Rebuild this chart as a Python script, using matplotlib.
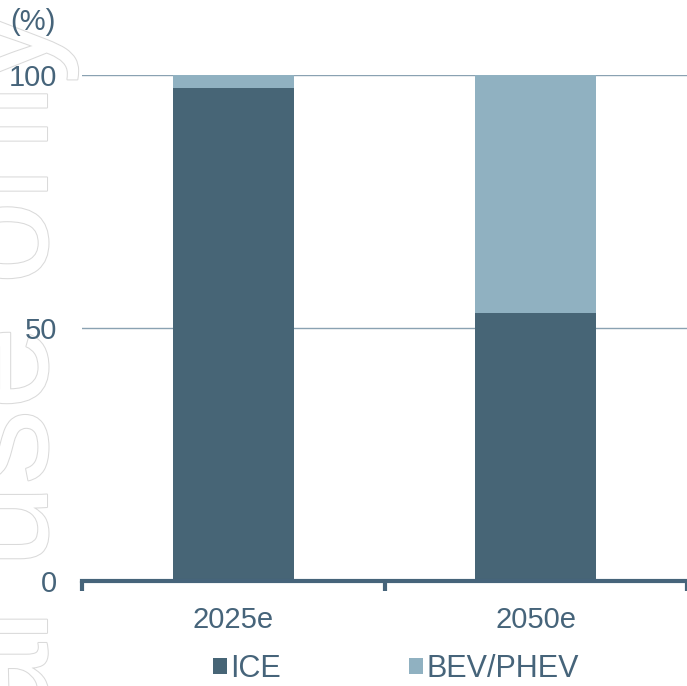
import matplotlib

matplotlib.use("Agg")
import matplotlib.pyplot as plt
import matplotlib.patheffects as pe
from matplotlib import font_manager
import numpy as np

years = ["2025e", "2050e"]
ice = [97.5, 53]
bev_phev = [2.5, 47]
series_names = ["ICE", "BEV/PHEV"]

INK = "#46647a"
C_ICE = "#476576"
C_BEV = "#90b1c1"
GRID = "#8aa2b2"

installed = {f.name for f in font_manager.fontManager.ttflist}
narrow = "Liberation Sans Narrow" in installed
plt.rcParams["font.family"] = ["Liberation Sans Narrow" if narrow else "Liberation Sans", "DejaVu Sans"]
FS = 25 if narrow else 21
FS_LEG = FS + 1

fig = plt.figure(figsize=(6.87, 6.86), dpi=100)
ax = fig.add_axes([82 / 687, 105 / 686, 605 / 687, 506 / 686])

# watermark, mostly cut off at the left edge
fig.text(47 / 687, 1 - 10 / 686, "internal use only", rotation=90, rotation_mode="anchor",
         ha="right", va="baseline", fontsize=108, color="white", zorder=-1,
         family="Liberation Sans",
         path_effects=[pe.withStroke(linewidth=1.5, foreground="#dadada")])

x = np.arange(len(years))
ax.bar(x, ice, width=0.4, color=C_ICE, label=series_names[0], zorder=2)
ax.bar(x, bev_phev, width=0.4, bottom=ice, color=C_BEV, label=series_names[1], zorder=2)

ax.set_xlim(-0.5, 1.5)
ax.set_ylim(0, 100)
ax.set_yticks([0, 50, 100])
ax.set_yticklabels(["0", "50", "100"])
ax.set_xticks(x)
ax.set_xticklabels(years)
ax.set_xticks([-0.5, 0.5, 1.5], minor=True)

ax.set_facecolor("none")
ax.grid(axis="y", color=GRID, linewidth=1.0, zorder=1)
ax.set_axisbelow(True)
for s in ["top", "right", "left"]:
    ax.spines[s].set_visible(False)
ax.spines["bottom"].set_color(INK)
ax.spines["bottom"].set_linewidth(3)
ax.spines["bottom"].set_zorder(3)

ax.tick_params(axis="y", length=0, pad=18, labelsize=FS, labelcolor=INK)
ax.tick_params(axis="x", which="major", length=0, pad=18, labelsize=FS, labelcolor=INK)
ax.tick_params(axis="x", which="minor", length=7, width=3, color=INK)

fig.text(10 / 687, 1 - 22 / 686, "(%)", fontsize=FS, color=INK, ha="left", va="center")

leg = fig.legend(loc="center", bbox_to_anchor=(396 / 687, 17 / 686), ncol=2, frameon=False,
                 fontsize=FS_LEG, handlelength=0.45, handleheight=0.45, handletextpad=0.12,
                 columnspacing=4.2, labelcolor=INK, borderaxespad=0)

fig.savefig("out.png", dpi=100)
